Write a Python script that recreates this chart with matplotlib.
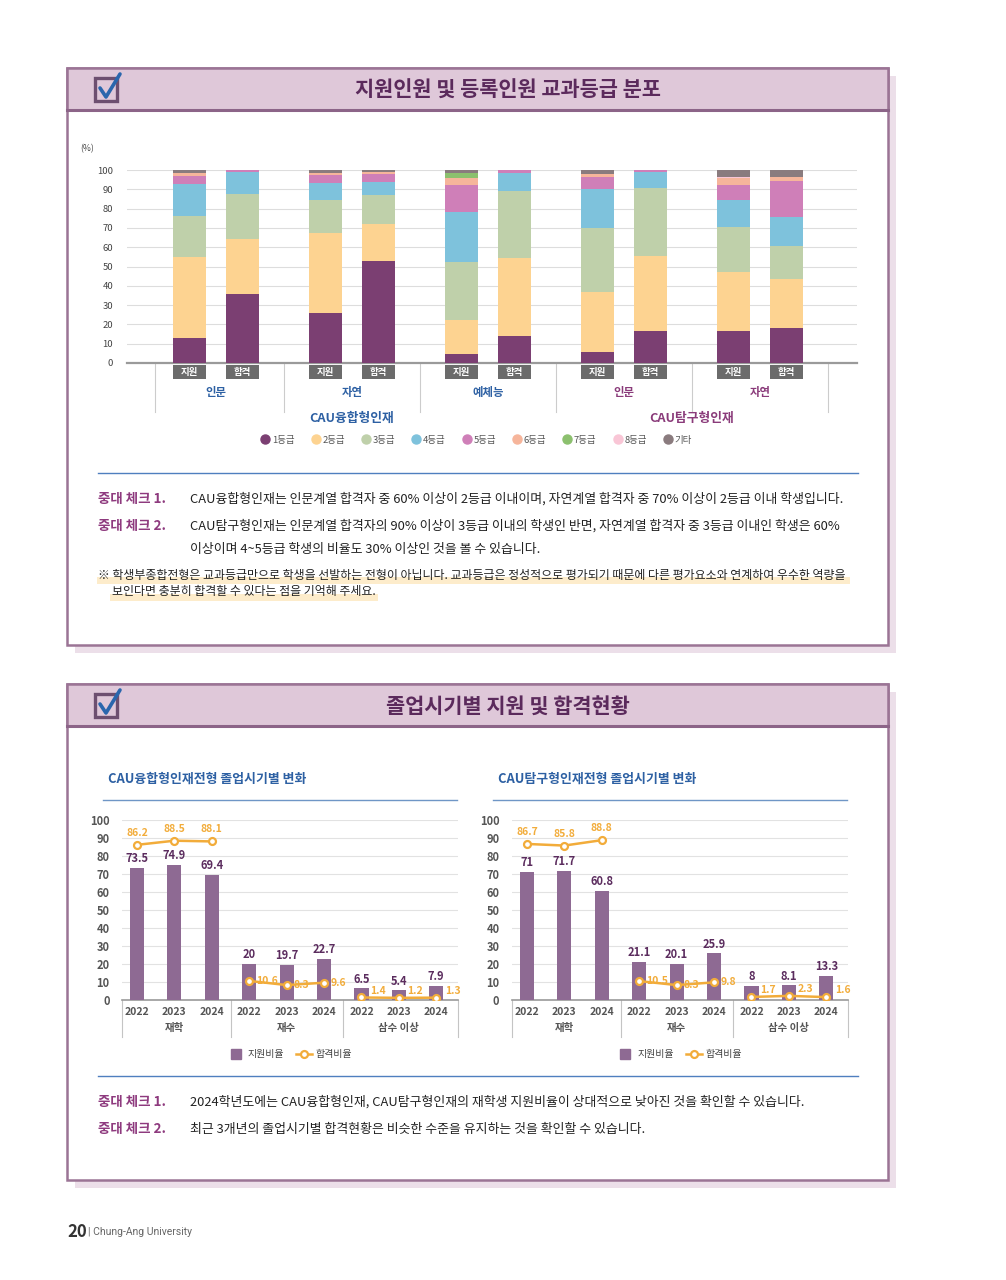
import numpy as np
import matplotlib
matplotlib.use("Agg")
import matplotlib.pyplot as plt
from matplotlib.patches import Rectangle
from matplotlib.lines import Line2D

plt.rcParams["font.family"] = ["Noto Sans CJK KR", "DejaVu Sans"]
NUM_FONT = ["Liberation Sans Narrow", "Noto Sans CJK KR", "DejaVu Sans"]

# ── Data: 교과등급 분포 (stacked, %) ──────────────────────────────────────────
bar_kind     = ["지원", "합격"] * 5
major_labels = ["인문", "자연", "예체능", "인문", "자연"]
group_labels = ["CAU융합형인재", "CAU탐구형인재"]
grade_labels = ["1등급", "2등급", "3등급", "4등급", "5등급", "6등급", "7등급", "8등급", "기타"]

g1  = [13.0, 35.7, 26.0, 53.1,  4.6, 14.1,  5.8, 16.5, 16.5, 17.9]
g2  = [42.0, 28.6, 41.4, 19.0, 17.6, 40.4, 31.1, 38.8, 30.8, 25.6]
g3  = [21.0, 23.3, 17.1, 15.0, 30.2, 34.8, 32.9, 35.2, 23.1, 17.3]
g4  = [17.0, 11.2,  8.6,  6.9, 25.8,  9.2, 20.1,  8.6, 14.1, 15.1]
g5  = [ 3.8,  1.2,  4.3,  3.9, 14.1,  1.5,  6.3,  0.9,  7.8, 18.3]
g6  = [ 1.4,  0.0,  0.9,  1.2,  3.4,  0.0,  1.7,  0.0,  3.4,  2.0]
g7  = [ 0.0,  0.0,  0.0,  0.0,  2.8,  0.0,  0.0,  0.0,  0.0,  0.0]
g8  = [ 0.0,  0.0,  0.0,  0.0,  0.0,  0.0,  0.0,  0.0,  0.6,  0.0]
etc = [ 1.8,  0.0,  1.7,  0.9,  1.5,  0.0,  2.1,  0.0,  3.7,  3.8]

# ── Data: 졸업시기별 지원/합격 비율 (%) ──────────────────────────────────────
years        = ["2022", "2023", "2024"] * 3
period_names = ["재학", "재수", "삼수 이상"]

fusion_apply = [73.5, 74.9, 69.4, 20, 19.7, 22.7, 6.5, 5.4, 7.9]
fusion_admit = [86.2, 88.5, 88.1, 10.6, 8.3, 9.6, 1.4, 1.2, 1.3]
explore_apply = [71, 71.7, 60.8, 21.1, 20.1, 25.9, 8, 8.1, 13.3]
explore_admit = [86.7, 85.8, 88.8, 10.5, 8.3, 9.8, 1.7, 2.3, 1.6]

# ── Style ────────────────────────────────────────────────────────────────────
GRADE_COLORS = ["#7b3f72", "#fdd391", "#bfd0aa", "#7ec2dc", "#cf7fb8",
                "#f6b59b", "#8cc06e", "#f9c6d6", "#8a7b7e"]
BLUE      = "#2d60a3"
PURPLE_T  = "#8a3b7a"
BAR_C     = "#8e6a93"
LINE_C    = "#f2ac3a"
VAL_C     = "#5b2c5e"
FRAME_C   = "#9b7495"
HEAD_C    = "#dfc8d9"
SHADOW_C  = "#ecdfe9"
BODY_FS   = 9.3

W, H = 1006, 1280
fig = plt.figure(figsize=(W / 100, H / 100), dpi=100)


def px_rect(x0, y0, x1, y1):
    return [x0 / W, 1 - y1 / H, (x1 - x0) / W, (y1 - y0) / H]


# page layer in pixel coordinates
bg = fig.add_axes([0, 0, 1, 1], zorder=0)
bg.set_xlim(0, W)
bg.set_ylim(H, 0)
bg.axis("off")


def panel(y0, y1, title):
    bg.add_patch(Rectangle((75, y0 + 8), 821, y1 - y0, fc=SHADOW_C, ec="none"))
    bg.add_patch(Rectangle((67, y0), 821, y1 - y0, fc="white", ec=FRAME_C, lw=1.8))
    bg.add_patch(Rectangle((67, y0), 821, 42, fc=HEAD_C, ec=FRAME_C, lw=1.8))
    bg.plot([67, 888], [y0 + 42, y0 + 42], color="#8c6488", lw=2.2)
    # check box icon
    bg.add_patch(Rectangle((95, y0 + 10), 22, 23, fc="none", ec="#6d4f70", lw=2.4))
    bg.plot([100, 106, 120], [y0 + 20, y0 + 29, y0 + 6], color="#2a66ad", lw=2.6,
            solid_capstyle="round", solid_joinstyle="round")
    bg.text(508, y0 + 22, title, ha="center", va="center", fontsize=15,
            fontweight="bold", color="#5b2a5c")


def check_line(y, label, body):
    bg.text(98, y, label, ha="left", va="center", fontsize=9.7, fontweight="bold",
            color="#8e3a7e")
    bg.text(190, y, body, ha="left", va="center", fontsize=BODY_FS, color="#222222")


panel(68, 645, "지원인원 및 등록인원 교과등급 분포")
panel(684, 1180, "졸업시기별 지원 및 합격현황")

# ══════════════════════════════════════════════════════════════════════════════
# 1. 교과등급 분포 — stacked bars
# ══════════════════════════════════════════════════════════════════════════════
ax1 = fig.add_axes(px_rect(127, 170, 857, 363), zorder=2)
ax1.set_facecolor("none")
grade_values = [g1, g2, g3, g4, g5, g6, g7, g8, etc]
group_idx = np.repeat(np.arange(len(major_labels)), 2)
x = group_idx + np.tile([-0.195, 0.195], len(major_labels))
bw = 0.243
bottom = np.zeros(len(bar_kind))
for vals, col, lab in zip(grade_values, GRADE_COLORS, grade_labels):
    vals = np.asarray(vals)
    ax1.bar(x, vals, width=bw, bottom=bottom, color=col, label=lab, zorder=3)
    bottom += vals

ax1.set_xlim(-0.654, 4.713)
ax1.set_ylim(0, 100)
ax1.set_yticks(range(0, 101, 10))
ax1.set_xticks([])
ax1.grid(axis="y", color="#dddddd", lw=0.8)
ax1.set_axisbelow(True)
for s in ["top", "right", "left"]:
    ax1.spines[s].set_visible(False)
ax1.spines["bottom"].set_color("#9a9a9a")
ax1.spines["bottom"].set_linewidth(1.6)
ax1.tick_params(axis="y", length=0, pad=10, labelsize=6.8, labelcolor="#444444")
ax1.text(-0.045, 1.11, "(%)", transform=ax1.transAxes, ha="right", va="center",
         fontsize=6.2, color="#444444")

tr1 = ax1.get_xaxis_transform()
for xi, k in zip(x, bar_kind):
    ax1.add_patch(Rectangle((xi - bw / 2, -0.083), bw, 0.073, transform=tr1,
                            fc="#6b6b6b", ec="none", clip_on=False))
    ax1.text(xi, -0.047, k, transform=tr1, ha="center", va="center",
             color="white", fontsize=6.8, fontweight="bold")
for s in [-0.45, 0.5, 1.5, 2.5, 3.5, 4.5]:
    ax1.plot([s, s], [0, -0.254], transform=tr1, color="#cccccc", lw=0.8,
             clip_on=False)
for gi, lab in enumerate(major_labels):
    ax1.text(gi, -0.155, lab, transform=tr1, ha="center", va="center",
             fontsize=8.2, fontweight="bold", color=BLUE if gi < 3 else PURPLE_T)
ax1.text(1.0, -0.285, group_labels[0], transform=tr1, ha="center", va="center",
         fontsize=9.2, fontweight="bold", color=BLUE)
ax1.text(3.5, -0.285, group_labels[1], transform=tr1, ha="center", va="center",
         fontsize=9.2, fontweight="bold", color=PURPLE_T)

handles = [Line2D([], [], marker="o", ls="", color=c, ms=6.5, label=l)
           for c, l in zip(GRADE_COLORS, grade_labels)]
ax1.legend(handles=handles, ncol=9, loc="center", bbox_to_anchor=(0.479, -0.40),
           frameon=False, fontsize=6.8, handlelength=0.8, handletextpad=0.3,
           columnspacing=1.85, labelcolor="#555555")

# text block
bg.plot([98, 858], [473, 473], color="#4f7fbf", lw=1.0)
check_line(499, "중대 체크 1.",
           "CAU융합형인재는 인문계열 합격자 중 60% 이상이 2등급 이내이며, 자연계열 합격자 중 70% 이상이 2등급 이내 학생입니다.")
check_line(526, "중대 체크 2.",
           "CAU탐구형인재는 인문계열 합격자의 90% 이상이 3등급 이내의 학생인 반면, 자연계열 합격자 중 3등급 이내인 학생은 60%")
bg.text(190, 549, "이상이며 4~5등급 학생의 비율도 30% 이상인 것을 볼 수 있습니다.",
        ha="left", va="center", fontsize=BODY_FS, color="#222222")
bg.add_patch(Rectangle((97, 577), 753, 7, fc="#fdeccb", ec="none"))
bg.add_patch(Rectangle((110, 594), 268, 7, fc="#fdeccb", ec="none"))
bg.text(98, 575, "※ 학생부종합전형은 교과등급만으로 학생을 선발하는 전형이 아닙니다. "
        "교과등급은 정성적으로 평가되기 때문에 다른 평가요소와 연계하여 우수한 역량을",
        ha="left", va="center", fontsize=8.6, color="#222222")
bg.text(112, 592, "보인다면 충분히 합격할 수 있다는 점을 기억해 주세요.",
        ha="left", va="center", fontsize=8.6, color="#222222")

# ══════════════════════════════════════════════════════════════════════════════
# 2. 졸업시기별 지원/합격 — bars + line
# ══════════════════════════════════════════════════════════════════════════════


def grad_chart(x0, title, apply_vals, admit_vals):
    ax = fig.add_axes(px_rect(x0, 820, x0 + 336, 1000), zorder=2)
    ax.set_facecolor("none")
    xs = np.arange(len(years))
    ax.bar(xs, apply_vals, width=0.38, color=BAR_C, zorder=3)
    for seg in range(len(period_names)):
        sl = slice(seg * 3, seg * 3 + 3)
        ax.plot(xs[sl], admit_vals[sl], color=LINE_C, lw=1.8, marker="o", ms=5,
                mfc="white", mec=LINE_C, mew=1.6, zorder=4)
    for i, (a, b) in enumerate(zip(apply_vals, admit_vals)):
        ax.annotate(f"{a:g}", (xs[i], a), xytext=(0, 2), textcoords="offset points",
                    ha="center", va="bottom", fontsize=8, fontweight="bold",
                    color=VAL_C, family=NUM_FONT, zorder=5)
        if i < 3:
            off, ha, va = (0, 5), "center", "bottom"
        elif i < 6:
            off, ha, va = (5, 0), "left", "center"
        else:
            off, ha, va = (6, 5), "left", "center"
        ax.annotate(f"{b:g}", (xs[i], b), xytext=off, textcoords="offset points",
                    ha=ha, va=va, fontsize=7.5, fontweight="bold", color=LINE_C,
                    family=NUM_FONT, zorder=5)
    ax.set_xlim(-0.4, 8.58)
    ax.set_ylim(0, 100)
    ax.set_yticks(range(0, 101, 10))
    ax.set_xticks(xs)
    ax.set_xticklabels(years)
    ax.grid(axis="y", color="#e2e2e2", lw=0.8)
    ax.set_axisbelow(True)
    for s in ["top", "right", "left"]:
        ax.spines[s].set_visible(False)
    ax.spines["bottom"].set_color("#9a9a9a")
    ax.spines["bottom"].set_linewidth(1.2)
    ax.tick_params(axis="y", length=0, pad=9, labelsize=8, labelcolor="#555555")
    ax.tick_params(axis="x", length=0, pad=5, labelsize=7.5, labelcolor="#555555")
    for lab in ax.get_yticklabels() + ax.get_xticklabels():
        lab.set_fontweight("bold")
    tr = ax.get_xaxis_transform()
    for s in [-0.4, 2.5, 5.5, 8.58]:
        ax.plot([s, s], [0, -0.205], transform=tr, color="#c4c4c4", lw=0.8,
                clip_on=False)
    for gi, name in enumerate(period_names):
        ax.text(gi * 3 + 1, -0.156, name, transform=tr, ha="center", va="center",
                fontsize=7.5, fontweight="bold", color="#555555")
    hnd = [Line2D([], [], marker="s", ls="", color=BAR_C, ms=7, label="지원비율"),
           Line2D([], [], marker="o", color=LINE_C, lw=1.8, ms=5, mfc="white",
                  mec=LINE_C, mew=1.6, label="합격비율")]
    ax.legend(handles=hnd, ncol=2, loc="center", bbox_to_anchor=(0.5, -0.30),
              frameon=False, fontsize=7.2, handlelength=1.6, handletextpad=0.4,
              columnspacing=1.2, labelcolor="#444444")
    # chart title + rule
    bg.text(x0 - 14, 779, title, ha="left", va="center", fontsize=9.3,
            fontweight="bold", color=BLUE)
    bg.plot([x0 - 19, x0 + 335], [800, 800], color="#6f96c6", lw=1.0)
    return ax


grad_chart(122, "CAU융합형인재전형 졸업시기별 변화", fusion_apply, fusion_admit)
grad_chart(512, "CAU탐구형인재전형 졸업시기별 변화", explore_apply, explore_admit)

bg.plot([98, 858], [1076, 1076], color="#4f7fbf", lw=1.0)
check_line(1102, "중대 체크 1.",
           "2024학년도에는 CAU융합형인재, CAU탐구형인재의 재학생 지원비율이 상대적으로 낮아진 것을 확인할 수 있습니다.")
check_line(1129, "중대 체크 2.",
           "최근 3개년의 졸업시기별 합격현황은 비슷한 수준을 유지하는 것을 확인할 수 있습니다.")

# footer
bg.text(67, 1232, "20", ha="left", va="center", fontsize=12, fontweight="bold",
        color="#333333", family=NUM_FONT)
bg.text(88, 1232, "| Chung-Ang University", ha="left", va="center", fontsize=7.5,
        color="#666666", family=["Roboto", "DejaVu Sans"])

fig.savefig("out.png", dpi=100)
